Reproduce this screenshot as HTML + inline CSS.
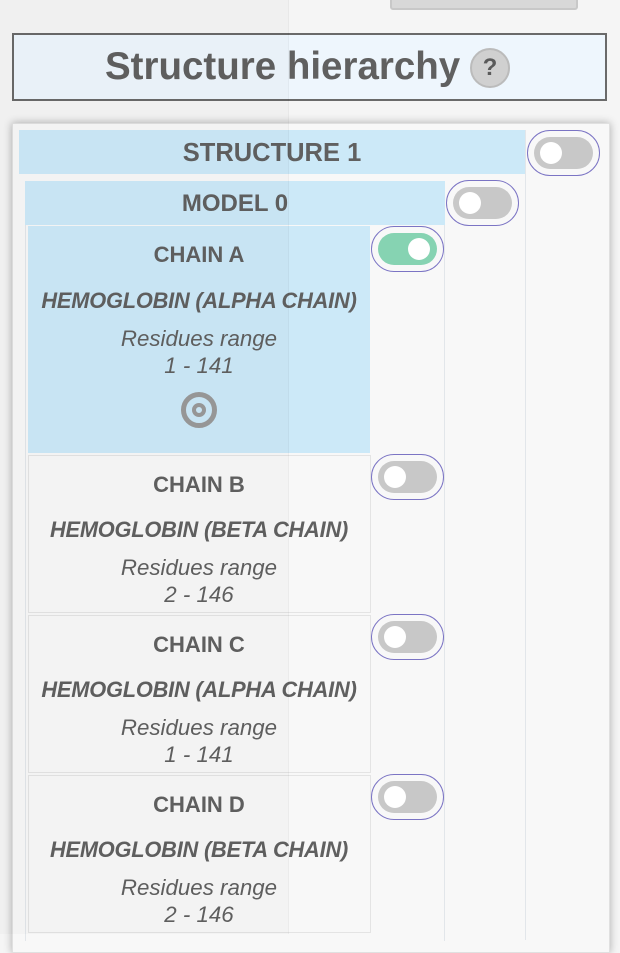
<!DOCTYPE html>
<html><head><style>
body{margin:0;width:620px;height:934px;background:#f5f5f5;position:relative;overflow:hidden;font-family:"Liberation Sans",Arial,sans-serif;color:#606060}
.a{position:absolute;box-sizing:border-box}
.t{text-align:center;font-weight:bold}
.tg{position:absolute;box-sizing:border-box;width:73px;height:46px;border:1px solid #7b74c4;border-radius:23px}
.tg .p{position:absolute;left:6px;top:6px;width:59px;height:32px;border-radius:16px;background:#c8c8c8}
.tg .k{position:absolute;left:6px;top:5px;width:22px;height:22px;border-radius:50%;background:#fff}
.tg.on .p{background:#86d3b2}.tg.on .k{left:30px}
.it{font-style:italic;font-weight:bold;font-size:21.8px;letter-spacing:-0.2px}
.ir{font-style:italic;font-weight:normal;font-size:22.3px;line-height:27px}
.ch{font-size:22px}
</style></head><body>
<div class="a" style="left:390px;top:-4px;width:188px;height:14px;background:#d8d8d8;border:2px solid #c8c8c8;border-radius:3px"></div>
<div class="a" style="left:12px;top:33px;width:595px;height:68px;background:#eef6fd;border:2px solid #6a6a6a"></div>
<div class="a t" style="left:105px;top:45px;font-size:38.5px;line-height:44px;color:#606060;white-space:nowrap">Structure hierarchy</div>
<div class="a" style="left:470px;top:48px;width:40px;height:40px;border-radius:50%;background:#d0d0d0;border:2px solid #bbb;text-align:center;font-weight:bold;font-size:24px;line-height:36px;color:#5a5a5a">?</div>
<div class="a" style="left:12px;top:123px;width:598px;height:830px;background:#f8f8f8;box-shadow:0 0 8px rgba(0,0,0,.3);border:1px solid #e0e0e0"></div>
<div class="a" style="left:19px;top:130px;width:507px;height:810px;border-right:1px solid #e2e6ea"></div>
<div class="a t" style="left:19px;top:130px;width:506px;height:44px;background:#cce9f8;font-size:25.5px;line-height:46px">STRUCTURE 1</div>
<div class="tg" style="left:527px;top:130px"><div class="p"><div class="k"></div></div></div>
<div class="a" style="left:25px;top:181px;width:420px;height:760px;border-right:1px solid #e2e6ea;border-left:1px solid #e2e6ea"></div>
<div class="a t" style="left:25px;top:181px;width:420px;height:44px;background:#cce9f8;font-size:24px;line-height:46px">MODEL 0</div>
<div class="tg" style="left:446px;top:180px"><div class="p"><div class="k"></div></div></div>

<div class="a" style="left:28px;top:226px;width:342px;height:227px;background:#cce9f8"></div>
<div class="a t ch" style="left:28px;top:242px;width:342px">CHAIN A</div>
<div class="a t it" style="left:28px;top:288px;width:342px">HEMOGLOBIN (ALPHA CHAIN)</div>
<div class="a t ir" style="left:28px;top:325px;width:342px">Residues range<br>1 - 141</div>
<div class="a" style="left:181px;top:392px;width:36px;height:36px;border-radius:50%;border:5px solid #999"></div>
<div class="a" style="left:192px;top:403px;width:14px;height:14px;border-radius:50%;border:4px solid #999"></div>
<div class="tg on" style="left:371px;top:226px"><div class="p"><div class="k"></div></div></div>

<div class="a" style="left:28px;top:455px;width:343px;height:158px;border:1px solid #e4e4e4"></div>
<div class="a t ch" style="left:28px;top:472px;width:342px">CHAIN B</div>
<div class="a t it" style="left:28px;top:517px;width:342px">HEMOGLOBIN (BETA CHAIN)</div>
<div class="a t ir" style="left:28px;top:554px;width:342px">Residues range<br>2 - 146</div>
<div class="tg" style="left:371px;top:454px"><div class="p"><div class="k"></div></div></div>

<div class="a" style="left:28px;top:615px;width:343px;height:158px;border:1px solid #e4e4e4"></div>
<div class="a t ch" style="left:28px;top:632px;width:342px">CHAIN C</div>
<div class="a t it" style="left:28px;top:677px;width:342px">HEMOGLOBIN (ALPHA CHAIN)</div>
<div class="a t ir" style="left:28px;top:714px;width:342px">Residues range<br>1 - 141</div>
<div class="tg" style="left:371px;top:614px"><div class="p"><div class="k"></div></div></div>

<div class="a" style="left:28px;top:775px;width:343px;height:158px;border:1px solid #e4e4e4"></div>
<div class="a t ch" style="left:28px;top:792px;width:342px">CHAIN D</div>
<div class="a t it" style="left:28px;top:837px;width:342px">HEMOGLOBIN (BETA CHAIN)</div>
<div class="a t ir" style="left:28px;top:874px;width:342px">Residues range<br>2 - 146</div>
<div class="tg" style="left:371px;top:774px"><div class="p"><div class="k"></div></div></div>

<div class="a" style="left:0;top:0;width:289px;height:934px;background:rgba(0,0,0,.02);border-right:1px solid rgba(0,0,0,.03)"></div>
</body></html>
